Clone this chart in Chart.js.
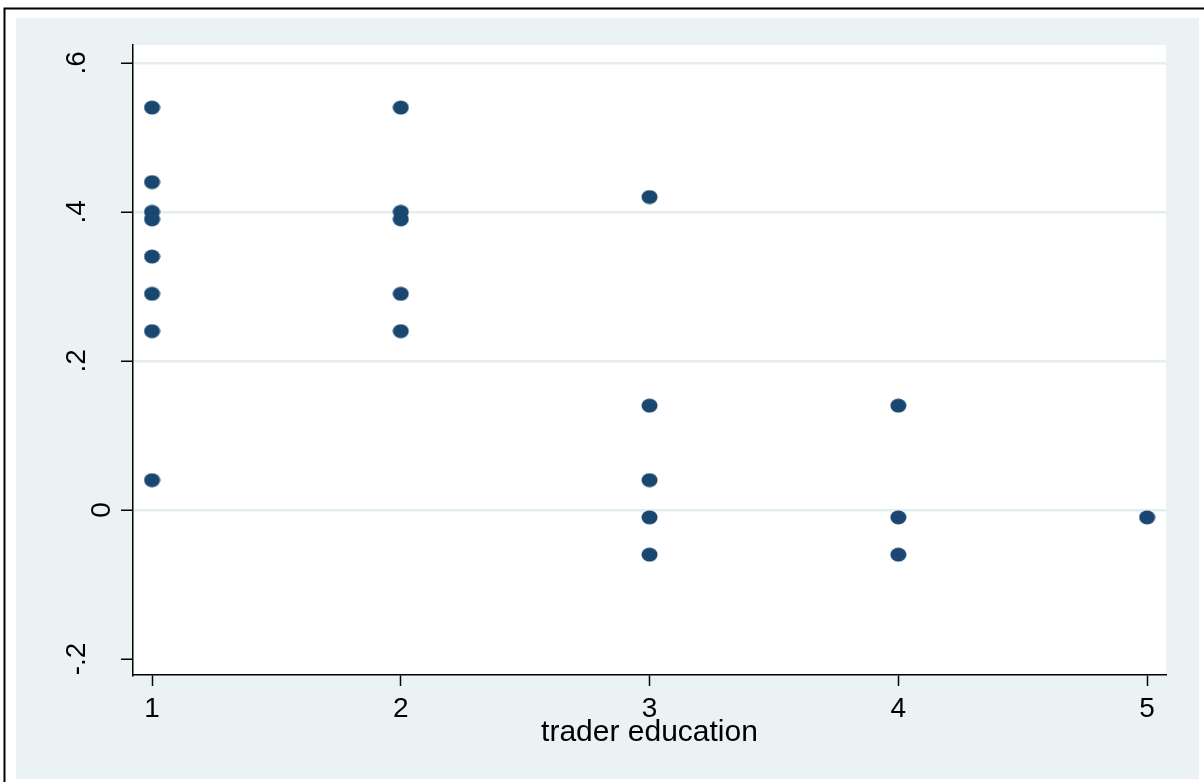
<!DOCTYPE html>
<html>
<head>
<meta charset="utf-8">
<style>
  html, body { margin: 0; padding: 0; background: #ffffff; }
  #wrap { width: 1204px; height: 782px; }
</style>
<script src="https://cdn.jsdelivr.net/npm/chart.js@4.4.1/dist/chart.umd.min.js"></script>
</head>
<body>
<div id="wrap"><canvas id="c" width="1204" height="782"></canvas></div>
<script>
// Trader education level (x) and the outcome measured for each trader (y)
const education = [1, 1, 1, 1, 1, 1, 1, 1,
                   2, 2, 2, 2, 2,
                   3, 3, 3, 3, 3,
                   4, 4, 4,
                   5];
const outcome = [0.54, 0.44, 0.40, 0.39, 0.34, 0.29, 0.24, 0.04,
                 0.54, 0.40, 0.39, 0.29, 0.24,
                 0.42, 0.14, 0.04, -0.01, -0.06,
                 0.14, -0.01, -0.06,
                 -0.01];
const xTicks = [1, 2, 3, 4, 5];
const yTicks = [-0.2, 0, 0.2, 0.4, 0.6];
const xTitle = 'trader education';

const NAVY = '#1A476F';
const PANEL = '#EAF2F3';
const GRID = '#E4EDEF';
const FONT = '"Liberation Sans", Arial, Helvetica, sans-serif';

// Stata-style number labels: ".4", "-.2", "0"
const fmt = v => v === 0 ? '0' : String(v).replace('0.', '.');

// slightly wide oval marker
function makeMarker() {
  const cv = document.createElement('canvas');
  cv.width = 17; cv.height = 15;
  const g = cv.getContext('2d');
  g.fillStyle = NAVY;
  g.beginPath();
  g.ellipse(8.5, 7.5, 8, 7, 0, 0, Math.PI * 2);
  g.fill();
  return cv;
}
const marker = makeMarker();

const points = education.map((x, i) => ({ x: x, y: outcome[i] }));

// page frame: outer border, tinted panel and white plot region
const framePlugin = {
  id: 'frame',
  beforeDraw(chart) {
    const ctx = chart.ctx, a = chart.chartArea;
    ctx.save();
    ctx.fillStyle = '#ffffff';
    ctx.fillRect(0, 0, chart.width, chart.height);
    ctx.fillStyle = PANEL;
    ctx.fillRect(16, 18, 1199 - 16, 779 - 18);
    ctx.strokeStyle = '#000000';
    ctx.lineWidth = 2;
    ctx.beginPath();
    ctx.moveTo(4.5, chart.height);
    ctx.lineTo(4.5, 8.5);
    ctx.lineTo(chart.width, 8.5);
    ctx.stroke();
    ctx.fillStyle = '#ffffff';
    ctx.fillRect(a.left, a.top, a.right - a.left, a.bottom - a.top);
    ctx.restore();
  },
  afterDraw(chart) {
    // vertical y-axis labels, reading bottom to top
    const ctx = chart.ctx, ys = chart.scales.y;
    ctx.save();
    ctx.fillStyle = '#000000';
    ctx.font = '28px ' + FONT;
    ctx.textAlign = 'center';
    ctx.textBaseline = 'alphabetic';
    ys.ticks.forEach(t => {
      const text = fmt(t.value);
      const py = ys.getPixelForValue(t.value);
      const gap = text.length > 1 ? 48 : 23;
      ctx.save();
      ctx.translate(ys.right - gap, py);
      ctx.rotate(-Math.PI / 2);
      ctx.fillText(text, 0, 0);
      ctx.restore();
    });
    ctx.restore();
  }
};

new Chart(document.getElementById('c'), {
  type: 'scatter',
  data: {
    datasets: [{
      data: points,
      pointStyle: marker,
      pointRadius: 8,
      pointHoverRadius: 8,
      backgroundColor: NAVY,
      borderColor: NAVY
    }]
  },
  options: {
    responsive: false,
    animation: false,
    events: [],
    layout: { padding: { top: 45, right: 38, left: 0, bottom: 0 } },
    plugins: { legend: { display: false }, tooltip: { enabled: false } },
    scales: {
      x: {
        type: 'linear',
        min: 0.9236,
        max: 5.076,
        afterBuildTicks: s => { s.ticks = xTicks.map(v => ({ value: v })); },
        afterFit: s => { s.height = 107; },
        grid: {
          drawOnChartArea: false,
          drawTicks: true,
          tickLength: 11,
          tickColor: '#000000',
          tickWidth: 1.5
        },
        border: { display: true, color: '#000000', width: 1.5 },
        ticks: {
          color: '#000000',
          font: { family: FONT, size: 28 },
          padding: 6,
          maxRotation: 0,
          callback: v => String(v)
        },
        title: {
          display: true,
          text: xTitle,
          color: '#000000',
          font: { family: FONT, size: 30 },
          padding: { top: 0, bottom: 31 }
        }
      },
      y: {
        type: 'linear',
        min: -0.2215,
        max: 0.624,
        afterBuildTicks: s => { s.ticks = yTicks.map(v => ({ value: v })); },
        afterFit: s => { s.width = 133; },
        grid: {
          drawOnChartArea: true,
          drawTicks: true,
          tickLength: 12,
          tickColor: '#000000',
          tickWidth: 1.5,
          lineWidth: 2.5,
          color: c => (c.tick && c.tick.value === yTicks[0]) ? 'rgba(0,0,0,0)' : GRID
        },
        border: { display: true, color: '#000000', width: 1.5 },
        ticks: { display: false }
      }
    }
  },
  plugins: [framePlugin]
});
</script>
</body>
</html>
